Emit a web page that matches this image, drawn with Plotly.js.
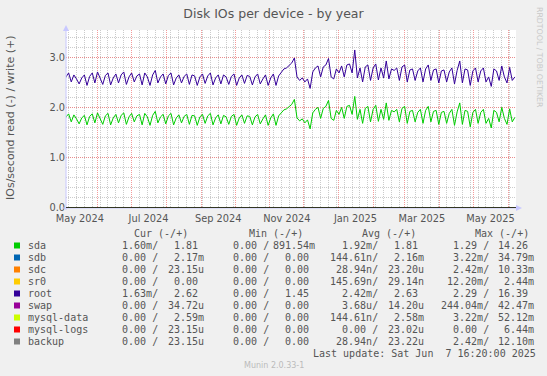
<!DOCTYPE html>
<html><head><meta charset="utf-8">
<script src="https://cdn.plot.ly/plotly-3.0.1.min.js"></script>
<style>html,body{margin:0;padding:0;background:#F0F0F0;}#chart{width:547px;height:376px;}</style>
</head><body><div id="chart"></div>
<script>
// ---- data (starting 2024-05-03 16:20, one sample every 56 h) ----
const startTime = '2024-05-03 16:20';
const endTime = '2025-06-07 16:20';
const stepHours = 56;

const rootWrite = [
2.62,2.70,2.52, 2.66,2.58,2.48, 2.60,2.66,2.45, 2.63,2.70,2.50, 2.72,2.60,2.47,
2.65,2.70,2.46, 2.60,2.68,2.50, 2.66,2.72,2.47, 2.62,2.70,2.52, 2.64,2.68,2.46,
2.70,2.62,2.45, 2.66,2.75,2.50, 2.62,2.68,2.48, 2.65,2.70,2.46, 2.60,2.66,2.50,
2.63,2.68,2.47, 2.66,2.64,2.45, 2.62,2.68,2.49, 2.64,2.70,2.46, 2.60,2.66,2.48,
2.66,2.62,2.47, 2.63,2.68,2.45, 2.60,2.66,2.49, 2.65,2.63,2.46, 2.62,2.68,2.48,
2.58,2.66,2.45, 2.60,2.68,2.45, 2.64,2.70,2.78, 2.80,2.86,2.90, 3.00,2.62,2.55,
2.60,2.52,2.58, 2.39,2.72,2.80, 2.84,2.62,2.82, 2.86,2.99,2.62, 2.58,2.78,2.70,
2.84,2.62,2.86, 2.88,2.70,3.16, 2.60,2.80,2.52, 2.82,2.86,2.55, 2.80,2.88,2.56,
2.80,2.60,2.94, 2.58,2.78,2.75, 2.80,2.55,2.82, 2.86,2.52,2.76, 2.78,2.55,2.74,
2.80,2.52,2.78, 2.86,2.55,2.76, 2.78,2.50,2.74, 2.76,2.52,2.72, 2.80,2.48,2.75,
2.94,2.50,2.78, 2.76,2.45,2.74, 2.80,2.52,2.74, 2.80,2.52,2.62, 2.43,2.78,2.74,
2.55,2.84,2.62, 2.50,2.81,2.55, 2.62];

const sdaWrite = [
1.82,1.88,1.72, 1.86,1.78,1.68, 1.80,1.85,1.66, 1.83,1.88,1.70, 1.90,1.80,1.67,
1.84,1.89,1.66, 1.80,1.87,1.70, 1.85,1.90,1.67, 1.82,1.89,1.72, 1.84,1.87,1.66,
1.89,1.82,1.65, 1.85,1.93,1.70, 1.82,1.87,1.68, 1.84,1.89,1.66, 1.80,1.86,1.70,
1.83,1.87,1.67, 1.85,1.84,1.65, 1.82,1.87,1.69, 1.84,1.89,1.66, 1.80,1.86,1.68,
1.85,1.82,1.67, 1.83,1.87,1.65, 1.80,1.86,1.69, 1.84,1.83,1.66, 1.82,1.87,1.68,
1.78,1.86,1.65, 1.80,1.88,1.65, 1.84,1.90,1.96, 1.98,2.03,2.07, 2.17,1.80,1.74,
1.78,1.70,1.76, 1.58,1.90,1.97, 2.01,1.79,1.99, 2.03,2.15,1.79, 1.75,1.95,1.87,
2.01,1.79,2.03, 2.05,1.87,2.23, 1.77,1.97,1.69, 1.99,2.03,1.72, 1.97,2.05,1.73,
1.97,1.77,2.10, 1.75,1.95,1.92, 1.97,1.72,1.99, 2.03,1.69,1.93, 1.95,1.72,1.91,
1.97,1.69,1.95, 2.03,1.72,1.93, 1.95,1.67,1.91, 1.93,1.69,1.89, 1.97,1.65,1.92,
2.10,1.67,1.95, 1.93,1.62,1.91, 1.97,1.69,1.91, 1.97,1.69,1.79, 1.60,1.95,1.91,
1.72,2.01,1.79, 1.67,1.98,1.72, 1.81];

// tiny series, sampled monthly
const monthDates = ['2024-05-03','2024-06-01','2024-07-01','2024-08-01','2024-09-01','2024-10-01','2024-11-01',
  '2024-12-01','2025-01-01','2025-02-01','2025-03-01','2025-04-01','2025-05-01','2025-06-07'];
const sdbWrite  = [0.0022,0.0021,0.0022,0.0020,0.0021,0.0022,0.0023,0.0021,0.0022,0.0021,0.0022,0.0021,0.0022,0.0022];
const mysqlDataWrite = [0.0026,0.0025,0.0026,0.0025,0.0026,0.0026,0.0027,0.0025,0.0026,0.0025,0.0026,0.0026,0.0026,0.0026];
const swapWrite = [0.00001,0.00001,0.00002,0.00001,0.00001,0.00001,0.00002,0.00001,0.00001,0.00001,0.00001,0.00002,0.00001,0.00003];

const xTickVals = ['2024-05-16','2024-07-16','2024-09-16','2024-11-16','2025-01-16','2025-03-16','2025-05-16'];
const xTickText = ['May 2024','Jul 2024','Sep 2024','Nov 2024','Jan 2025','Mar 2025','May 2025'];
const yTickVals = [0,1,2,3];
const yTickText = ['0.0','1.0','2.0','3.0'];

const devices = ['sda','sdb','sdc','sr0','root','swap','mysql-data','mysql-logs','backup'];
const devColors = ['#00CC00','#0066B3','#FF8000','#FFCC00','#330099','#990099','#CCFF00','#FF0000','#808080'];
const curRead  = ['1.60m','0.00','0.00','0.00','1.63m','0.00','0.00','0.00','0.00'];
const curWrite = ['1.81','2.17m','23.15u','0.00','2.62','34.72u','2.59m','23.15u','23.15u'];
const minRead  = ['0.00','0.00','0.00','0.00','0.00','0.00','0.00','0.00','0.00'];
const minWrite = ['891.54m','0.00','0.00','0.00','1.45','0.00','0.00','0.00','0.00'];
const avgRead  = ['1.92m','144.61n','28.94n','145.69n','2.42m','3.68u','144.61n','0.00','28.94n'];
const avgWrite = ['1.81','2.16m','23.20u','29.14n','2.63','14.20u','2.58m','23.02u','23.22u'];
const maxRead  = ['1.29','3.22m','2.42m','12.20m','2.29','244.04m','3.22m','0.00','2.42m'];
const maxWrite = ['14.26','34.79m','10.33m','2.44m','16.39','42.47m','52.12m','6.44m','12.10m'];

// ---- build ----
function stamp(i){
  const t0 = Date.UTC(2024,4,3,16,20);
  return new Date(t0 + i*stepHours*3600e3).toISOString().slice(0,16).replace('T',' ');
}
const xs = rootWrite.map((_,i)=>stamp(i));

const L=66, R=516, T=30, B=208, W=R-L, H=B-T;
const px = v => (v-L)/W, py = v => (B-v)/H;
const nb = s => s.replace(/ /g,'\u00A0');
function field(s){
  const last = s.slice(-1);
  let num=s, unit=' ';
  if (/[a-zA-Z]/.test(last)) { num=s.slice(0,-1); unit=last; }
  return num.padStart(6,' ')+unit;
}
const mono = {family:'DejaVu Sans Mono', size:10, color:'#555555'};
function txt(x, y, s, font, extra){
  return Object.assign({xref:'paper', yref:'paper', x:px(x), y:py(y), text:nb(s), showarrow:false,
    xanchor:'left', yanchor:'middle', borderpad:0, font:font||mono}, extra||{});
}

const traces = [
  {x:xs, y:sdaWrite, type:'scatter', mode:'lines', line:{color:'#00CC00', width:1}, name:'sda', xaxis:'x'},
  {x:monthDates, y:sdbWrite, type:'scatter', mode:'lines', line:{color:'#0066B3', width:1}, name:'sdb', xaxis:'x2'},
  {x:monthDates, y:swapWrite, type:'scatter', mode:'lines', line:{color:'#990099', width:1}, name:'swap', xaxis:'x2'},
  {x:monthDates, y:mysqlDataWrite, type:'scatter', mode:'lines', line:{color:'#CCFF00', width:1}, name:'mysql-data', xaxis:'x2'},
  {x:xs, y:rootWrite, type:'scatter', mode:'lines', line:{color:'#330099', width:1}, name:'root', xaxis:'x'},
];

const ann = [];
const rowY = i => 245.5 + 12*i;
const cols = [
  [109, curRead, true], [160.7, curWrite, false],
  [219.7, minRead, true], [272, minWrite, false],
  [329.3, avgRead, true], [380.7, avgWrite, false],
  [440.3, maxRead, true], [491.3, maxWrite, false]
];
const shapes = [];
devices.forEach((d,i)=>{
  ann.push(txt(26.7, rowY(i), d));
  cols.forEach(([x, arr, neg])=>{
    ann.push(txt(x, rowY(i), field(arr[i]) + (neg?'/':'')));
  });
  shapes.push({type:'rect', xref:'paper', yref:'paper', x0:px(14), x1:px(20), y0:py(rowY(i)+3), y1:py(rowY(i)-3),
    line:{width:0}, fillcolor:devColors[i]});
});
ann.push(txt(133.3, 233.3, 'Cur (-/+)'));
ann.push(txt(247.7, 233.3, 'Min (-/+)'));
ann.push(txt(360.7, 233.3, 'Avg (-/+)'));
ann.push(txt(474, 233.3, 'Max (-/+)'));
ann.push(txt(311.7, 353.3, 'Last update: Sat Jun  7 16:20:00 2025'));
ann.push(txt(273.5, 365, 'Munin 2.0.33-1', {family:'DejaVu Sans', size:8, color:'#BBBBBB'}, {xanchor:'center'}));
ann.push(txt(540, 57, 'RRDTOOL / TOBI OETIKER', {family:'DejaVu Sans', size:7.8, color:'#C8C8C8'}, {xanchor:'center', textangle:90}));
ann.push(txt(10, 118, 'IOs/second read (-) / write (+)', {family:'DejaVu Sans', size:11, color:'#555555'}, {xanchor:'center', textangle:-90}));

// axes lines and arrows
const axisCol = '#C8C8FF';
shapes.push({type:'line', xref:'paper', yref:'paper', x0:0, x1:0, y0:py(210), y1:py(27), line:{color:axisCol, width:1}});
shapes.push({type:'path', xref:'paper', yref:'paper',
  path:`M ${px(63)} ${py(31)} L ${px(66)} ${py(25)} L ${px(69)} ${py(31)} Z`, fillcolor:axisCol, line:{width:0}});
shapes.push({type:'line', xref:'paper', yref:'paper', x0:px(62), x1:px(520), y0:0, y1:0, line:{color:axisCol, width:1}});
shapes.push({type:'path', xref:'paper', yref:'paper',
  path:`M ${px(516)} ${py(205)} L ${px(522)} ${py(208)} L ${px(516)} ${py(211)} Z`, fillcolor:axisCol, line:{width:0}});
shapes.push({type:'line', xref:'paper', yref:'y', x0:0, x1:1, y0:0, y1:0, line:{color:'#000000', width:1}, layer:'above'});

const redGrid = 'rgba(240,120,120,0.75)';
const grayGrid = 'rgba(140,140,140,0.45)';
const layout = {
  width:547, height:376,
  paper_bgcolor:'#F0F0F0', plot_bgcolor:'#FFFFFF',
  margin:{l:L, r:547-R, t:T, b:376-B, pad:0},
  showlegend:false,
  title:{text:'Disk IOs per device - by year', font:{family:'DejaVu Sans', size:12.5, color:'#555555'},
    x:0.5, xref:'container', y:1-14/376, yref:'container', yanchor:'middle'},
  xaxis:{type:'date', range:[startTime,endTime], tickmode:'array', tickvals:xTickVals, ticktext:xTickText,
    showgrid:false, zeroline:false, showline:false, ticks:'', ticklabelstandoff:3,
    tickfont:{family:'DejaVu Sans', size:9.8, color:'#555555'}},
  xaxis2:{type:'date', range:[startTime,endTime], overlaying:'x', anchor:'y', side:'bottom',
    tick0:'2024-05-01', dtick:'M1', showticklabels:false, ticks:'',
    showgrid:true, gridcolor:redGrid, griddash:'1px,1px', gridwidth:1, zeroline:false, showline:false,
    minor:{tick0:'2024-05-06', dtick:7*86400000, showgrid:true, gridcolor:grayGrid, griddash:'1px,1px', gridwidth:1, ticks:''}},
  yaxis:{range:[-0.005,3.56], tickmode:'array', tickvals:yTickVals, ticktext:yTickText,
    showgrid:true, gridcolor:redGrid, griddash:'1px,1px', zeroline:false, showline:false, ticks:'',
    tickfont:{family:'DejaVu Sans', size:9.8, color:'#555555'},
    minor:{tickmode:'linear', tick0:0, dtick:0.2, showgrid:true, gridcolor:grayGrid, griddash:'1px,1px', ticks:''}},
  annotations:ann,
  shapes:shapes
};
Plotly.newPlot('chart', traces, layout, {staticPlot:true, displayModeBar:false});
</script></body></html>
